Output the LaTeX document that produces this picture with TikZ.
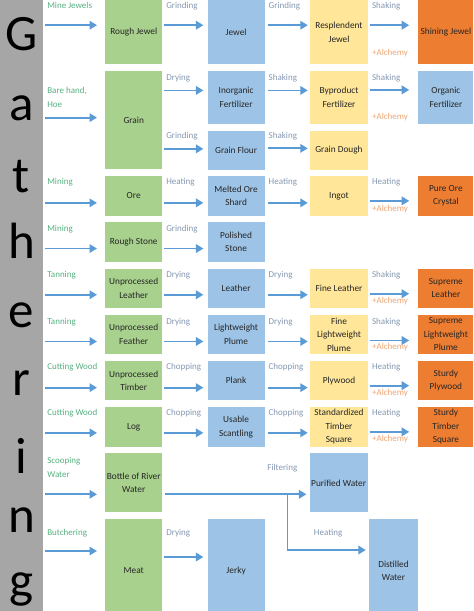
\documentclass[tikz,border=0pt]{standalone}
\usepackage{fontspec}
\setmainfont{Carlito}
\usetikzlibrary{positioning, arrows.meta}

\definecolor{barGray}{HTML}{A6A6A6}
\definecolor{boxGreen}{HTML}{A9D18E}
\definecolor{boxBlue}{HTML}{9DC3E6}
\definecolor{boxYellow}{HTML}{FFE699}
\definecolor{boxOrange}{HTML}{ED7D31}
\definecolor{arrowBlue}{HTML}{5B9BD5}
\definecolor{labGreen}{HTML}{55B080}
\definecolor{labGray}{HTML}{8497B0}
\definecolor{labAlc}{HTML}{EDA574}

\begin{document}
\begin{tikzpicture}[->,>={Triangle[length=7.5pt,width=8.5pt]},x=1pt,y=-1pt,node distance=6.3pt and 45pt,
	box/.style={minimum width=57pt, minimum height=39.5pt, inner sep=1pt, align=center, text=black!85, font=\fontsize{9.3pt}{13.5pt}\selectfont},
	gbox/.style={box, fill=boxGreen},
	bbox/.style={box, fill=boxBlue},
	ybox/.style={box, fill=boxYellow, minimum width=58pt},
	obox/.style={box, fill=boxOrange, minimum width=55pt},
	letter/.style={anchor=base, inner sep=0pt, font=\fontsize{51pt}{51pt}\selectfont},
	arr/.style={draw=arrowBlue, line width=1.8pt},
	c1/.style={shorten <=2pt, shorten >=8pt},
	c2/.style={shorten <=2pt, shorten >=4pt},
	c3/.style={shorten <=3pt, shorten >=2pt},
	c4/.style={shorten <=2pt, shorten >=9pt},
	lbl/.style={pos=0, anchor=base west, inner sep=0pt, xshift=3pt, yshift=#1, align=left, font=\fontsize{9pt}{14pt}\selectfont},
	lbl/.default=17pt,
	glbl/.style={lbl=#1, text=labGreen}, glbl/.default=17pt,
	blbl/.style={lbl=#1, text=labGray}, blbl/.default=17pt,
	alc/.style={lbl=#1, text=labAlc}, alc/.default=-10pt]
		\fontsize{9pt}{13.5pt}\selectfont
		\useasboundingbox (0,0) rectangle (474,611);

		\node[fill=barGray, minimum width=43pt, minimum height=620pt, inner sep=0pt, anchor=north west] (GATHER) at (0,0) {};
		\foreach \ch/\y [count=\i] in {G/50,a/120,t/192,h/258,e/327,r/395,i/473,n/532,g/597}
			\node[letter] (L\i) at (21.5,\y) {\ch};

		% raw materials
		\node[gbox, minimum height=64pt, anchor=north west	] (ROUGH_JEWEL) 	at (105,0) {Rough Jewel};
		\node[gbox, minimum height=98.5pt, below=of ROUGH_JEWEL	] (GRAIN) 		{Grain};
		\node[gbox, below=of GRAIN					] (ORE) 		{Ore};
		\node[gbox, below=of ORE					] (ROUGH_STONE) 	{Rough Stone};
		\node[gbox, below=of ROUGH_STONE				] (UNP_LEATHER) 	{Unprocessed\\Leather};
		\node[gbox, below=of UNP_LEATHER				] (UNP_FEATHER) 	{Unprocessed\\Feather};
		\node[gbox, below=of UNP_FEATHER				] (UNP_TIMBER) 	{Unprocessed\\Timber};
		\node[gbox, below=of UNP_TIMBER				] (LOG) 		{Log};
		\node[gbox, minimum height=59pt, below=of LOG		] (BOTTLE) 		{Bottle of River\\Water};
		\node[gbox, minimum height=104pt, below=of BOTTLE	] (MEAT) 		{Meat};

		% first step
		\node[bbox, minimum height=64pt, right=of ROUGH_JEWEL	] (JEWEL) 		{Jewel};
		\node[bbox, minimum height=53pt, anchor=north west	] (INORGANIC) 	at ([xshift=45pt]GRAIN.north east) {Inorganic\\Fertilizer};
		\node[bbox, below=of INORGANIC				] (GRAIN_FLOUR) 	{Grain Flour};
		\node[bbox, right=of ORE					] (MELTED_ORE) 	{Melted Ore\\Shard};
		\node[bbox, right=of ROUGH_STONE				] (POL_STONE) 	{Polished\\Stone};
		\node[bbox, right=of UNP_LEATHER				] (LEATHER) 		{Leather};
		\node[bbox, right=of UNP_FEATHER				] (LW_PLUME) 	{Lightweight\\Plume};
		\node[bbox, right=of UNP_TIMBER				] (PLANK) 		{Plank};
		\node[bbox, right=of LOG					] (SCANTLING) 	{Usable\\Scantling};
		\node[bbox, minimum height=104pt, right=of MEAT		] (JERKY) 		{Jerky};

		% second step
		\node[ybox, minimum height=64pt, right=of JEWEL		] (RESPLENDENT) 	{Resplendent\\Jewel};
		\node[ybox, minimum height=53pt, right=of INORGANIC	] (BYPRODUCT) 	{Byproduct\\Fertilizer};
		\node[ybox, right=of GRAIN_FLOUR				] (DOUGH) 		{Grain Dough};
		\node[ybox, right=of MELTED_ORE				] (INGOT) 		{Ingot};
		\node[ybox, right=of LEATHER					] (FINE_LEATHER) 	{Fine Leather};
		\node[ybox, right=of LW_PLUME				] (FINE_PLUME) 	{Fine\\Lightweight\\Plume};
		\node[ybox, right=of PLANK					] (PLYWOOD) 		{Plywood};
		\node[ybox, right=of SCANTLING				] (STD_SQUARE) 	{Standardized\\Timber\\Square};
		\node[bbox, minimum width=58pt, minimum height=59pt, right=147pt of BOTTLE] (PURIFIED) {Purified Water};
		\node[bbox, minimum width=49pt, minimum height=104pt, right=104pt of JERKY] (DISTILLED) {Distilled\\Water};

		% last step
		\node[obox, minimum height=64pt, right=50pt of RESPLENDENT	] (SHINING) 		{Shining Jewel};
		\node[bbox, minimum width=55pt, minimum height=53pt, right=50pt of BYPRODUCT] (ORGANIC) {Organic\\Fertilizer};
		\node[obox, right=50pt of INGOT				] (CRYSTAL) 		{Pure Ore\\Crystal};
		\node[obox, right=50pt of FINE_LEATHER			] (SUP_LEATHER) 	{Supreme\\Leather};
		\node[obox, right=50pt of FINE_PLUME			] (SUP_PLUME) 	{Supreme\\Lightweight\\Plume};
		\node[obox, right=50pt of PLYWOOD				] (ST_PLYWOOD) 	{Sturdy\\Plywood};
		\node[obox, right=50pt of STD_SQUARE			] (ST_SQUARE) 	{Sturdy\\Timber\\Square};

		\coordinate (SPLIT) at ([xshift=125pt, yshift=-11.5pt]BOTTLE.east);

		\draw[arr, c1] ([yshift=7pt]GATHER.east |- ROUGH_JEWEL.west) 	-- ([yshift=7pt]ROUGH_JEWEL.west) 	node[glbl]{Mine Jewels};
		\draw[arr, c2] ([yshift=7pt]ROUGH_JEWEL.east) 			-- ([yshift=7pt]JEWEL.west) 		node[blbl]{Grinding};
		\draw[arr, c3] ([yshift=7pt]JEWEL.east) 				-- ([yshift=7pt]RESPLENDENT.west) 	node[blbl]{Grinding};
		\draw[arr, c4] ([yshift=7pt]RESPLENDENT.east) 			-- ([yshift=7pt]SHINING.west) 		node[blbl]{Shaking} node[alc=-30pt]{+Alchemy};

		\draw[arr, c1] ([yshift=2.5pt]GATHER.east |- GRAIN.west) 		-- ([yshift=2.5pt]GRAIN.west) 		node[glbl=10pt]{Bare hand,\\Hoe};
		\draw[arr, c2] ([yshift=7pt]GRAIN.east |- INORGANIC.west) 		-- ([yshift=7pt]INORGANIC.west) 	node[blbl=10pt]{Drying};
		\draw[arr, c2] ([yshift=1.5pt]GRAIN.east |- GRAIN_FLOUR.west) 	-- ([yshift=1.5pt]GRAIN_FLOUR.west) 	node[blbl=10pt]{Grinding};
		\draw[arr, c3] ([yshift=7pt]INORGANIC.east) 			-- ([yshift=7pt]BYPRODUCT.west) 	node[blbl=10pt]{Shaking};
		\draw[arr, c3] ([yshift=2pt]GRAIN_FLOUR.east) 			-- ([yshift=2pt]DOUGH.west) 		node[blbl=10pt]{Shaking};
		\draw[arr, c4] ([yshift=7.5pt]BYPRODUCT.east) 			-- ([yshift=7.5pt]ORGANIC.west) 	node[blbl=9.5pt]{Shaking} node[alc=-30pt]{+Alchemy};

		\draw[arr, c1] ([yshift=-7pt]GATHER.east |- ORE.west) 		-- ([yshift=-7pt]ORE.west) 		node[glbl=18pt]{Mining};
		\draw[arr, c2] ([yshift=-7pt]ORE.east) 				-- ([yshift=-7pt]MELTED_ORE.west) 	node[blbl=18pt]{Heating};
		\draw[arr, c3] ([yshift=-7pt]MELTED_ORE.east) 			-- ([yshift=-7pt]INGOT.west) 		node[blbl=18pt]{Heating};
		\draw[arr, c4] ([yshift=-5pt]INGOT.east) 				-- ([yshift=-5pt]CRYSTAL.west) 		node[blbl=16pt]{Heating} node[alc=-11pt]{+Alchemy};

		\draw[arr, c1] ([yshift=-6.5pt]GATHER.east |- ROUGH_STONE.west) 	-- ([yshift=-6.5pt]ROUGH_STONE.west) 	node[glbl]{Mining};
		\draw[arr, c2] ([yshift=-6.5pt]ROUGH_STONE.east) 			-- ([yshift=-6.5pt]POL_STONE.west) 	node[blbl]{Grinding};

		\draw[arr, c1] ([yshift=-6.5pt]GATHER.east |- UNP_LEATHER.west) 	-- ([yshift=-6.5pt]UNP_LEATHER.west) 	node[glbl]{Tanning};
		\draw[arr, c2] ([yshift=-6.5pt]UNP_LEATHER.east) 			-- ([yshift=-6.5pt]LEATHER.west) 	node[blbl]{Drying};
		\draw[arr, c3] ([yshift=-6.5pt]LEATHER.east) 			-- ([yshift=-6.5pt]FINE_LEATHER.west) 	node[blbl]{Drying};
		\draw[arr, c4] ([yshift=-5.5pt]FINE_LEATHER.east) 			-- ([yshift=-5.5pt]SUP_LEATHER.west) 	node[blbl=16pt]{Shaking} node[alc]{+Alchemy};

		\draw[arr, c1] ([yshift=-7pt]GATHER.east |- UNP_FEATHER.west) 	-- ([yshift=-7pt]UNP_FEATHER.west) 	node[glbl]{Tanning};
		\draw[arr, c2] ([yshift=-7pt]UNP_FEATHER.east) 			-- ([yshift=-7pt]LW_PLUME.west) 	node[blbl]{Drying};
		\draw[arr, c3] ([yshift=-7pt]LW_PLUME.east) 			-- ([yshift=-7pt]FINE_PLUME.west) 	node[blbl]{Drying};
		\draw[arr, c4] ([yshift=-6pt]FINE_PLUME.east) 			-- ([yshift=-6pt]SUP_PLUME.west) 	node[blbl=16pt]{Shaking} node[alc=-9pt]{+Alchemy};

		\draw[arr, c1] ([yshift=-7pt]GATHER.east |- UNP_TIMBER.west) 	-- ([yshift=-7pt]UNP_TIMBER.west) 	node[glbl=18pt]{Cutting Wood};
		\draw[arr, c2] ([yshift=-7pt]UNP_TIMBER.east) 			-- ([yshift=-7pt]PLANK.west) 		node[blbl=18pt]{Chopping};
		\draw[arr, c3] ([yshift=-7pt]PLANK.east) 				-- ([yshift=-7pt]PLYWOOD.west) 		node[blbl=18pt]{Chopping};
		\draw[arr, c4] ([yshift=-5pt]PLYWOOD.east) 				-- ([yshift=-5pt]ST_PLYWOOD.west) 	node[blbl=16pt]{Heating} node[alc]{+Alchemy};

		\draw[arr, c1] ([yshift=-6pt]GATHER.east |- LOG.west) 		-- ([yshift=-6pt]LOG.west) 		node[glbl]{Cutting Wood};
		\draw[arr, c2] ([yshift=-6pt]LOG.east) 				-- ([yshift=-6pt]SCANTLING.west) 	node[blbl]{Chopping};
		\draw[arr, c3] ([yshift=-6pt]SCANTLING.east) 			-- ([yshift=-6pt]STD_SQUARE.west) 	node[blbl]{Chopping};
		\draw[arr, c4] ([yshift=-5pt]STD_SQUARE.east) 			-- ([yshift=-5pt]ST_SQUARE.west) 	node[blbl=16pt]{Heating} node[alc]{+Alchemy};

		\draw[arr, c1] ([yshift=-11.5pt]GATHER.east |- BOTTLE.west) 	-- ([yshift=-11.5pt]BOTTLE.west) 	node[glbl]{Scooping\\Water};
		\draw[arr, shorten <=3pt, shorten >=3pt] ([yshift=-11.5pt]BOTTLE.east) -- ([yshift=-11.5pt]PURIFIED.west) node[pos=.816, anchor=base, inner sep=0pt, yshift=24pt, text=labGray]{Filtering};
		\draw[arr, shorten >=3pt] (SPLIT) |- ([yshift=21pt]DISTILLED.west) node[pos=.75, anchor=base, inner sep=0pt, yshift=15pt, text=labGray]{Heating};

		\draw[arr, c1] ([yshift=20pt]GATHER.east |- MEAT.west) 		-- ([yshift=20pt]MEAT.west) 		node[glbl=16pt]{Butchering};
		\draw[arr, c2] ([yshift=14pt]MEAT.east) 				-- ([yshift=14pt]JERKY.west) 		node[blbl=22pt]{Drying};

	\end{tikzpicture}
\end{document}
